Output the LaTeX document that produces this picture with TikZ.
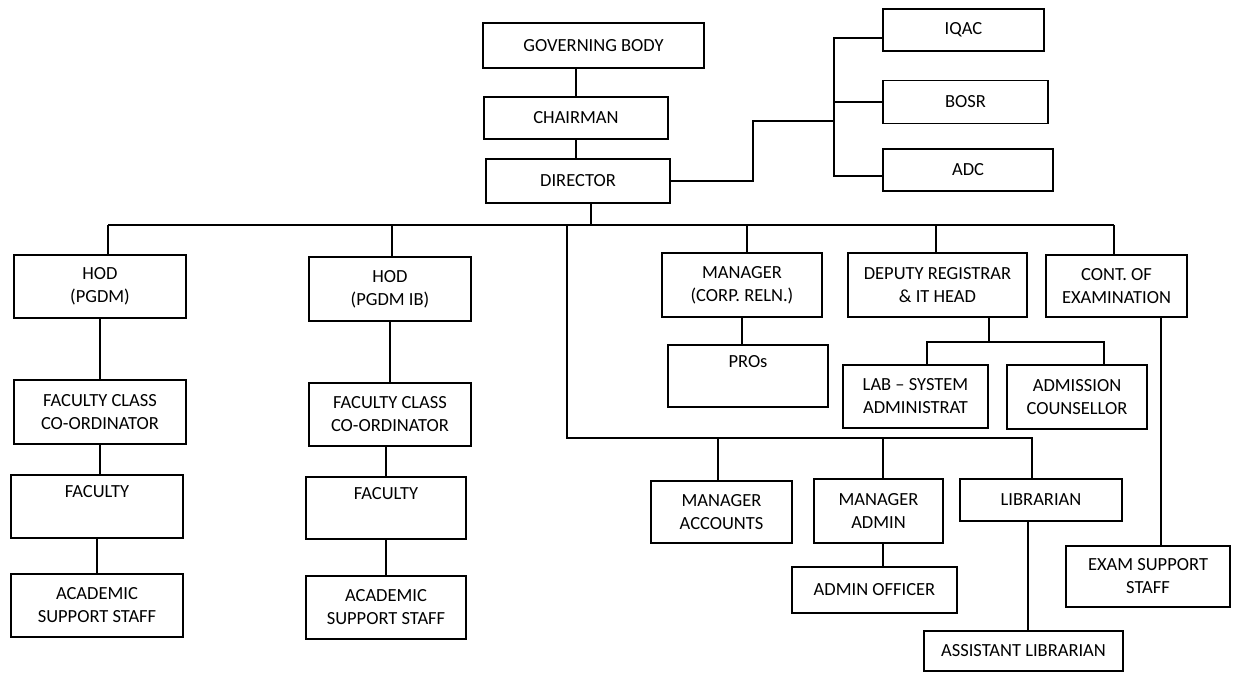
\documentclass[tikz,border=0pt]{standalone}
\usepackage{fontspec}
\setmainfont{Carlito}

\tikzset{
  unit/.style={draw, rectangle, line width=1.5pt, align=center, inner sep=0pt,
               font=\fontsize{18.5}{23}\selectfont},
  link/.style={line width=1.5pt}
}

\begin{document}
\begin{tikzpicture}[x=1pt, y=-1pt]
  \useasboundingbox (0,0) rectangle (1233,675);

  % — top chain —
  \node[unit, minimum width=221, minimum height=45] (gov)   at (593.5,45.5) {GOVERNING BODY};
  \node[unit, minimum width=184, minimum height=42] (chair) at (576,118)    {CHAIRMAN};
  \node[unit, minimum width=184, minimum height=44] (dir)   at (578,181)    {DIRECTOR};

  % committees on the right of the director
  \node[unit, minimum width=161, minimum height=42] (iqac) at (963.5,30)  {IQAC};
  \node[unit, minimum width=165, minimum height=43] (bosr) at (965.5,102) {BOSR};
  \node[unit, minimum width=170, minimum height=42] (adc)  at (968,170)   {ADC};

  % — left: the two departments —
  \node[unit, minimum width=172, minimum height=63] (hodA)  at (100,286.5)  {HOD\\(PGDM)};
  \node[unit, minimum width=172, minimum height=64] (fccA)  at (100,412)    {FACULTY CLASS\\CO-ORDINATOR};
  \node[unit, minimum width=172, minimum height=63] (facA)  at (97,506.5)   {FACULTY\\\strut};
  \node[unit, minimum width=172, minimum height=63] (acadA) at (97,605.5)   {ACADEMIC\\SUPPORT STAFF};

  \node[unit, minimum width=162, minimum height=64] (hodB)  at (390,289)    {HOD\\(PGDM IB)};
  \node[unit, minimum width=162, minimum height=63] (fccB)  at (390,414.5)  {FACULTY CLASS\\CO-ORDINATOR};
  \node[unit, minimum width=160, minimum height=62] (facB)  at (386,508)    {FACULTY\\\strut};
  \node[unit, minimum width=160, minimum height=63] (acadB) at (386,607.5)  {ACADEMIC\\SUPPORT STAFF};

  % — right: administration —
  \node[unit, minimum width=160, minimum height=64] (mcorp) at (742,285)    {MANAGER\\(CORP. RELN.)};
  \node[unit, minimum width=160, minimum height=62] (pros)  at (748,376)    {PROs\\\strut};
  \node[unit, minimum width=179, minimum height=64] (dreg)  at (937.5,285)  {DEPUTY REGISTRAR\\\& IT HEAD};
  \node[unit, minimum width=141, minimum height=62] (cont)  at (1116.5,286) {CONT. OF\\EXAMINATION};
  \node[unit, minimum width=145, minimum height=63] (lab)   at (915.5,396.5) {LAB -- SYSTEM\\ADMINISTRAT};
  \node[unit, minimum width=140, minimum height=64] (adm)   at (1077,397)   {ADMISSION\\COUNSELLOR};

  \node[unit, minimum width=141, minimum height=62] (macc)  at (721.5,512)  {MANAGER\\ACCOUNTS};
  \node[unit, minimum width=129, minimum height=64] (madm)  at (878.5,511)  {MANAGER\\ADMIN};
  \node[unit, minimum width=162, minimum height=42] (lib)   at (1041,500)   {LIBRARIAN};
  \node[unit, minimum width=165, minimum height=46] (aoff)  at (874.5,590)  {ADMIN OFFICER};
  \node[unit, minimum width=199, minimum height=40] (alib)  at (1023.5,651) {ASSISTANT LIBRARIAN};
  \node[unit, minimum width=164, minimum height=61] (exam)  at (1148,576.5) {EXAM SUPPORT\\STAFF};

  % bus points
  \coordinate (jA) at (108,225);
  \coordinate (jB) at (392,225);
  \coordinate (jL) at (567,225);
  \coordinate (jD) at (591,225);
  \coordinate (jM) at (747,225);
  \coordinate (jR) at (936,225);
  \coordinate (jC) at (1114,225);
  \coordinate (kL) at (567,438);
  \coordinate (kA) at (718,438);
  \coordinate (kM) at (883,438);
  \coordinate (kR) at (1032,438);
  \coordinate (sL) at (927,342);
  \coordinate (sD) at (989,342);
  \coordinate (sR) at (1104,342);
  \coordinate (bend) at (753,121);
  \coordinate (sp)  at (834,121);
  \coordinate (spT) at (834,38);
  \coordinate (spB) at (834,176);
  \coordinate (cD)  at (1161,0);

  % top chain links
  \draw[link] (chair.north |- gov.south) -- (chair.north);
  \draw[link] (chair.south) -- (chair.south |- dir.north);
  \draw[link] (dir.east) -| (bend) -- (sp);
  \draw[link] (spT -| iqac.west) -- (spT) -- (spB) -- (spB -| adc.west);
  \draw[link] (bosr.west -| sp) -- (bosr.west);

  % main bus
  \draw[link] (jD |- dir.south) -- (jD);
  \draw[link] (jA) -- (jC);
  \draw[link] (jA) -- (jA |- hodA.north);
  \draw[link] (jB) -- (jB |- hodB.north);
  \draw[link] (jM) -- (jM |- mcorp.north);
  \draw[link] (jR) -- (jR |- dreg.north);
  \draw[link] (jC) -- (jC |- cont.north);

  % department chains
  \draw[link] (hodA.south) -- (hodA.south |- fccA.north);
  \draw[link] (fccA.south) -- (fccA.south |- facA.north);
  \draw[link] (facA.south) -- (facA.south |- acadA.north);
  \draw[link] (hodB.south) -- (hodB.south |- fccB.north);
  \draw[link] (facB.north |- fccB.south) -- (facB.north);
  \draw[link] (facB.south) -- (acadB.north);

  % administration links
  \draw[link] (mcorp.south) -- (mcorp.south |- pros.north);
  \draw[link] (sD |- dreg.south) -- (sD);
  \draw[link] (sL |- lab.north) -- (sL) -- (sR) -- (sR |- adm.north);
  \draw[link] (cD |- cont.south) -- (cD |- exam.north);

  % lower bus
  \draw[link] (jL) -- (kL) -- (kR) -- (kR |- lib.north);
  \draw[link] (kA) -- (kA |- macc.north);
  \draw[link] (kM) -- (kM |- madm.north);
  \draw[link] (kM |- madm.south) -- (kM |- aoff.north);
  \draw[link] ([xshift=-13pt]lib.south) -- ([xshift=-13pt]lib.south |- alib.north);
\end{tikzpicture}
\end{document}
